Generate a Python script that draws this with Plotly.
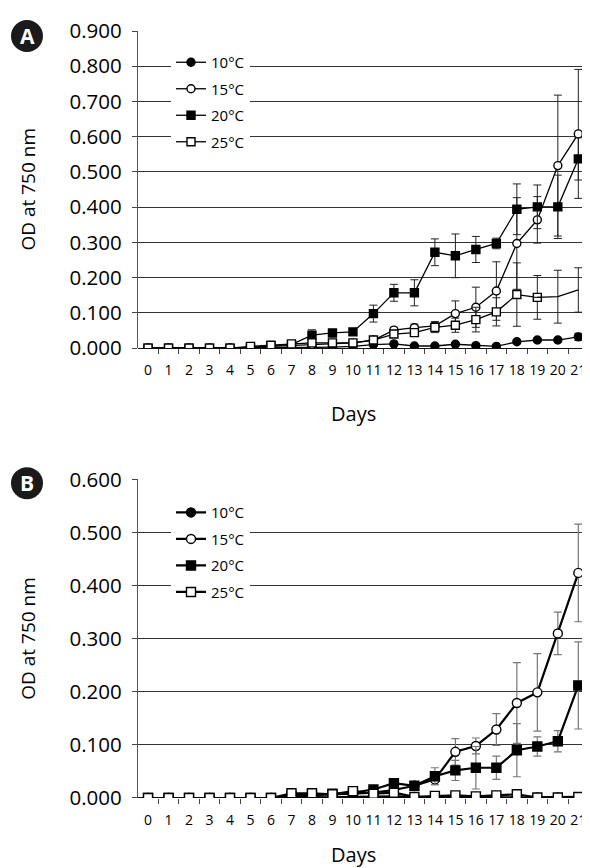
import plotly.graph_objects as go

days = list(range(22))
day_labels = [str(d) for d in days]
series_names = ["10°C", "15°C", "20°C", "25°C"]

# Panel A
a10 = [0.000,0.000,0.000,0.000,0.000,0.001,0.002,0.002,0.002,0.003,0.005,0.010,0.012,0.006,0.006,0.011,0.007,0.005,0.018,0.023,0.023,0.032]
a10_err = [0,0,0,0,0,0.001,0.001,0.001,0.001,0.001,0.002,0.003,0.003,0.002,0.002,0.003,0.002,0.002,0.005,0.005,0.005,0.010]
a15 = [0.000,0.000,0.000,0.000,0.000,0.002,0.005,0.008,0.010,0.012,0.015,0.023,0.051,0.058,0.063,0.098,0.116,0.162,0.297,0.364,0.518,0.608]
a15_err = [0,0,0,0,0,0.001,0.002,0.003,0.004,0.004,0.005,0.006,0.008,0.010,0.012,0.036,0.057,0.083,0.130,0.066,0.200,0.183]
a20 = [0.000,0.000,0.000,0.000,0.000,0.002,0.007,0.010,0.037,0.043,0.046,0.098,0.157,0.157,0.272,0.262,0.280,0.297,0.394,0.401,0.401,0.537]
a20_err = [0,0,0,0,0,0.001,0.003,0.004,0.015,0.008,0.006,0.024,0.024,0.037,0.038,0.062,0.037,0.015,0.072,0.062,0.090,0.060]
a25 = [0.000,0.000,0.000,0.000,0.000,0.005,0.008,0.012,0.015,0.015,0.015,0.023,0.040,0.044,0.059,0.065,0.081,0.103,0.152,0.144,0.146,0.165]
a25_err = [0,0,0,0,0,0.002,0.003,0.004,0.005,0.005,0.005,0.006,0.008,0.010,0.015,0.020,0.035,0.040,0.090,0.062,0.075,0.063]
a25_marked_days = 20  # 25°C in panel A has no markers on the last two days

# Panel B
b10 = [0,0,0,0,0,0,0,0.002,0.001,0.001,0.002,0.003,0.003,0.002,0.002,0.002,0.001,0.001,0.002,0.001,0.001,0.001]
b10_err = [0]*22
b15 = [0,0,0,0,0,0,0,0.004,0.005,0.006,0.008,0.010,0.015,0.023,0.035,0.087,0.098,0.129,0.179,0.199,0.310,0.424]
b15_err = [0,0,0,0,0,0,0,0.002,0.002,0.002,0.003,0.004,0.005,0.006,0.010,0.025,0.015,0.030,0.076,0.073,0.040,0.092]
b20 = [0,0,0,0,0,0,0,0.005,0.006,0.008,0.010,0.016,0.028,0.023,0.041,0.052,0.057,0.057,0.090,0.097,0.107,0.212]
b20_err = [0,0,0,0,0,0,0,0.002,0.002,0.003,0.003,0.004,0.004,0.005,0.016,0.019,0.040,0.022,0.050,0.018,0.020,0.082]
b25 = [0,0,0,0,0,0,0,0.009,0.009,0.007,0.013,0.008,0.010,0.002,0.004,0.005,0.003,0.005,0.007,0.001,0.001,0.002]
b25_err = [0]*22

a_ticks = [0.0,0.1,0.2,0.3,0.4,0.5,0.6,0.7,0.8,0.9]
b_ticks = [0.0,0.1,0.2,0.3,0.4,0.5,0.6]

# The page body adds an 8px margin, so the figure is drawn smaller and shifted
OFF = 8
W, H = 590 - OFF, 868 - OFF
ML, MR, MT = 138 - OFF, 0, 31 - OFF
MB = H - (797.7 - OFF)
PW, PH = W - ML - MR, H - MT - MB
def px(x):
    return (x - OFF - ML) / PW
def py(y):
    return (H - MB - (y - OFF)) / PH

FONT = "Open Sans"
symbols = ["circle", "circle", "square", "square"]
fills = ["black", "white", "black", "white"]

fig = go.Figure()

def add_panel(vals, errs, xa, ya, legend, lw, msize, ecolor, ethick):
    for i, (name, v, e) in enumerate(zip(series_names, vals, errs)):
        n = len(v)
        if xa == "x" and i == 3:
            n = a25_marked_days
        fig.add_trace(go.Scatter(
            x=days[:n], y=v[:n], name=name, mode="lines+markers",
            xaxis=xa, yaxis=ya, legend=legend, legendrank=i,
            legendgroup="%s-%d" % (legend, i),
            line=dict(color="black", width=lw),
            marker=dict(symbol=symbols[i], size=msize, color=fills[i],
                        line=dict(color="black", width=1.4)),
            error_y=dict(type="data", array=e[:n], visible=True,
                         color=ecolor, thickness=ethick, width=4),
        ))
        if n < len(v):
            fig.add_trace(go.Scatter(
                x=days[n-1:], y=v[n-1:], mode="lines", showlegend=False,
                xaxis=xa, yaxis=ya, legendgroup="%s-%d" % (legend, i),
                line=dict(color="black", width=lw),
                error_y=dict(type="data", array=[0] + e[n:], visible=True,
                             color=ecolor, thickness=ethick, width=4),
            ))

add_panel([a10, a15, a20, a25], [a10_err, a15_err, a20_err, a25_err],
          "x", "y", "legend", 1.3, 8, "#222", 1.0)
add_panel([b10, b15, b20, b25], [b10_err, b15_err, b20_err, b25_err],
          "x2", "y2", "legend2", 2.2, 9, "#777", 1.2)

xcommon = dict(
    range=[-0.49, 21.57], tickmode="array", tickvals=days, ticktext=day_labels,
    ticks="", showgrid=False, zeroline=False, showline=False,
    tickfont=dict(family=FONT, size=14, color="black"),
    ticklabelstandoff=12, ticklabeloverflow="allow",
    minor=dict(tickmode="linear", tick0=0.5, dtick=1, ticks="outside",
               ticklen=5, tickcolor="#444", tickwidth=1, showgrid=False),
)
ycommon = dict(
    tickformat=".3f", showgrid=True, gridcolor="#333", gridwidth=1.2,
    zeroline=True, zerolinecolor="#111", zerolinewidth=1.3,
    showline=True, linecolor="#555", linewidth=1.2,
    ticks="outside", ticklen=5, tickcolor="#444",
    tickfont=dict(family=FONT, size=20.5, color="black"),
    ticklabelstandoff=6,
)

legend_common = dict(xanchor="left", yanchor="top", bgcolor="white",
                     font=dict(family=FONT, size=15, color="black"),
                     tracegroupgap=4)

fig.update_layout(
    width=W, height=H, margin=dict(l=ML, r=MR, t=MT, b=MB),
    paper_bgcolor="white", plot_bgcolor="white",
    font=dict(family=FONT, color="black"),
    xaxis=dict(domain=[0, 1], anchor="y", **xcommon),
    xaxis2=dict(domain=[0, 1], anchor="y2", **xcommon),
    yaxis=dict(domain=[py(348), 1], range=[0, 0.9], tickvals=a_ticks, anchor="x", **ycommon),
    yaxis2=dict(domain=[0, py(479.3)], range=[0, 0.6], tickvals=b_ticks, anchor="x2", **ycommon),
    legend=dict(x=px(171), y=py(46), **legend_common),
    legend2=dict(x=px(171), y=py(496), **legend_common),
    showlegend=True,
)

# Panel letters
for letter, cy in [("A", 36), ("B", 483)]:
    r = 16
    fig.add_shape(type="circle", xref="paper", yref="paper",
                  x0=px(27 - r), x1=px(27 + r), y0=py(cy + r), y1=py(cy - r),
                  fillcolor="#1a1a1a", line=dict(color="#1a1a1a", width=0))
    fig.add_annotation(text="<b>%s</b>" % letter, xref="paper", yref="paper",
                       x=px(27), y=py(cy), xanchor="center", yanchor="middle",
                       showarrow=False,
                       font=dict(family=FONT, size=21, color="white"))

# Axis titles
for cy in [189.5, 638.5]:
    fig.add_annotation(text="OD at 750 nm", xref="paper", yref="paper",
                       x=px(28), y=py(cy), xanchor="center", yanchor="middle",
                       showarrow=False, textangle=-90,
                       font=dict(family=FONT, size=19, color="black"))
for cy in [413, 854]:
    fig.add_annotation(text="Days", xref="paper", yref="paper",
                       x=px(353), y=py(cy), xanchor="center", yanchor="middle",
                       showarrow=False,
                       font=dict(family=FONT, size=20, color="black"))

fig.write_html("out.html")
